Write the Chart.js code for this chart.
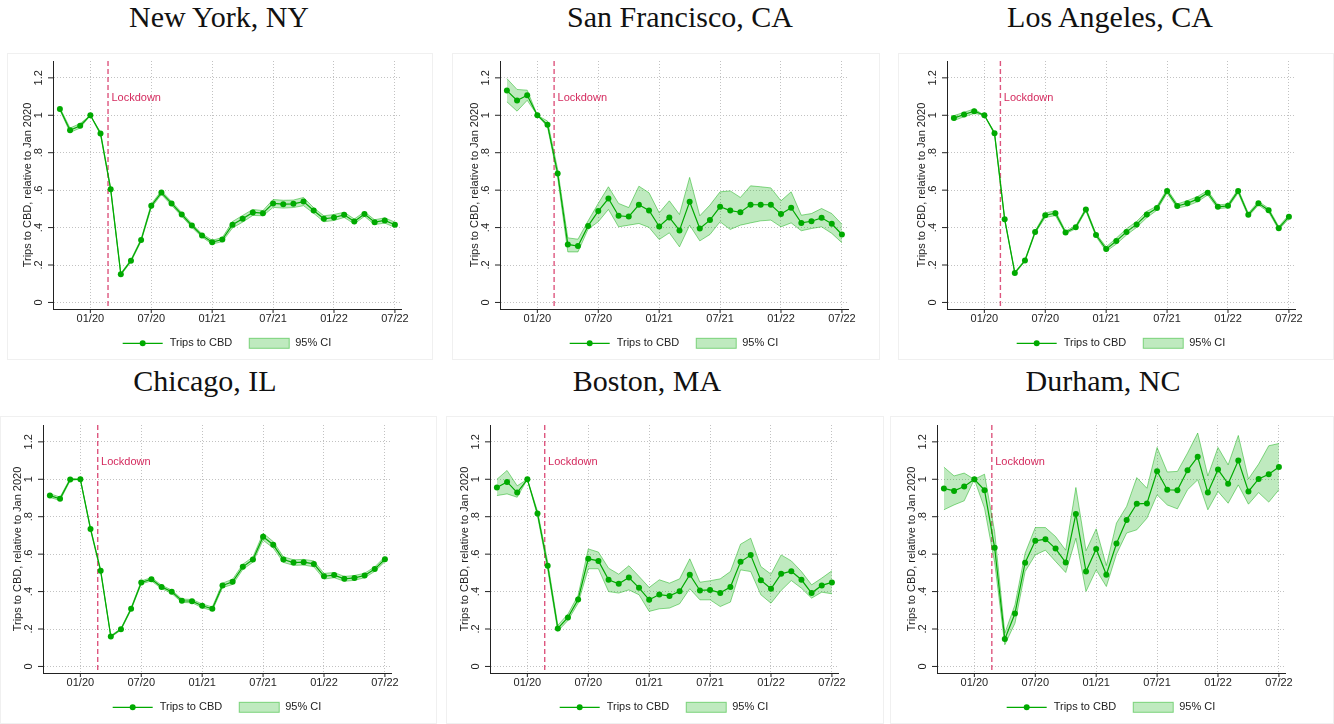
<!DOCTYPE html>
<html>
<head>
<meta charset="utf-8">
<title>Trips to CBD relative to January 2020</title>
<script src="https://cdn.jsdelivr.net/npm/chart.js@4.4.1/dist/chart.umd.min.js"></script>
<style>
  html, body { margin: 0; padding: 0; background: #fff; }
  body { width: 1334px; height: 724px; position: relative; overflow: hidden; }
  .frame { position: absolute; border: 1px solid #f0f0f0; box-sizing: border-box; }
  .title { position: absolute; width: 400px; text-align: center; font: 30px/30px "Liberation Serif", "Times New Roman", serif; color: #111; }
  canvas { position: absolute; }
</style>
</head>
<body>
<script>
// monthly observations, Oct 2019 - Jul 2022
const months = ['10/19', '11/19', '12/19',
  '01/20', '02/20', '03/20', '04/20', '05/20', '06/20', '07/20', '08/20', '09/20', '10/20', '11/20', '12/20',
  '01/21', '02/21', '03/21', '04/21', '05/21', '06/21', '07/21', '08/21', '09/21', '10/21', '11/21', '12/21',
  '01/22', '02/22', '03/22', '04/22', '05/22', '06/22', '07/22'];
const xTickLabels = ['01/20', '07/20', '01/21', '07/21', '01/22', '07/22'];
const yTicks = [0, 0.2, 0.4, 0.6, 0.8, 1, 1.2];
const yTickLabels = ['0', '.2', '.4', '.6', '.8', '1', '1.2'];
const yTitle = 'Trips to CBD, relative to Jan 2020';
const legendLabels = ['Trips to CBD', '95% CI'];

const cities = ['New York, NY', 'San Francisco, CA', 'Los Angeles, CA', 'Chicago, IL', 'Boston, MA', 'Durham, NC'];
// lockdown date, in months since Oct 2019
const lockdown = [4.74, 4.65, 4.58, 4.71, 4.71, 4.72];

const nyTrips = [1.034, 0.920, 0.944, 1.000, 0.903, 0.605, 0.151, 0.223, 0.333, 0.516, 0.587, 0.529, 0.470, 0.411, 0.358,
  0.322, 0.336, 0.415, 0.447, 0.481, 0.477, 0.529, 0.525, 0.527, 0.539, 0.491, 0.447, 0.454, 0.468, 0.433, 0.472, 0.429, 0.438, 0.415];
const nyHi = [1.040, 0.932, 0.956, 1.000, 0.910, 0.612, 0.156, 0.229, 0.340, 0.526, 0.597, 0.539, 0.480, 0.421, 0.367,
  0.332, 0.347, 0.432, 0.465, 0.497, 0.491, 0.550, 0.546, 0.547, 0.561, 0.506, 0.463, 0.470, 0.482, 0.446, 0.484, 0.442, 0.452, 0.429];
const nyLo = [1.028, 0.908, 0.932, 1.000, 0.896, 0.598, 0.146, 0.217, 0.326, 0.506, 0.577, 0.519, 0.460, 0.401, 0.349,
  0.312, 0.325, 0.398, 0.429, 0.465, 0.463, 0.508, 0.504, 0.507, 0.517, 0.476, 0.431, 0.438, 0.454, 0.420, 0.460, 0.416, 0.424, 0.401];

const sfTrips = [1.132, 1.079, 1.107, 1.000, 0.949, 0.689, 0.310, 0.301, 0.409, 0.488, 0.555, 0.463, 0.459, 0.522, 0.491,
  0.406, 0.454, 0.385, 0.538, 0.395, 0.440, 0.511, 0.491, 0.482, 0.522, 0.522, 0.522, 0.472, 0.506, 0.425, 0.434, 0.452, 0.420, 0.363];
const sfHi = [1.196, 1.138, 1.134, 1.000, 0.969, 0.712, 0.345, 0.338, 0.436, 0.529, 0.618, 0.529, 0.507, 0.621, 0.586,
  0.479, 0.543, 0.470, 0.668, 0.463, 0.520, 0.591, 0.596, 0.561, 0.623, 0.618, 0.612, 0.543, 0.591, 0.466, 0.475, 0.502, 0.475, 0.418];
const sfLo = [1.072, 1.022, 1.080, 1.000, 0.938, 0.668, 0.270, 0.270, 0.392, 0.431, 0.497, 0.404, 0.413, 0.422, 0.401,
  0.336, 0.372, 0.297, 0.413, 0.329, 0.363, 0.431, 0.390, 0.413, 0.425, 0.436, 0.440, 0.404, 0.425, 0.383, 0.395, 0.404, 0.369, 0.319];

const laTrips = [0.985, 1.004, 1.022, 1.000, 0.904, 0.445, 0.158, 0.224, 0.376, 0.466, 0.477, 0.374, 0.402, 0.497, 0.360,
  0.285, 0.328, 0.377, 0.417, 0.470, 0.504, 0.595, 0.515, 0.530, 0.552, 0.586, 0.511, 0.516, 0.595, 0.468, 0.530, 0.493, 0.397, 0.458];
const laHi = [0.998, 1.016, 1.034, 1.000, 0.910, 0.450, 0.162, 0.229, 0.382, 0.478, 0.490, 0.381, 0.410, 0.505, 0.368,
  0.297, 0.344, 0.394, 0.433, 0.487, 0.515, 0.606, 0.526, 0.544, 0.566, 0.598, 0.521, 0.526, 0.605, 0.477, 0.540, 0.503, 0.406, 0.468];
const laLo = [0.972, 0.992, 1.010, 1.000, 0.898, 0.440, 0.154, 0.219, 0.370, 0.454, 0.464, 0.367, 0.394, 0.489, 0.352,
  0.273, 0.312, 0.360, 0.401, 0.453, 0.493, 0.584, 0.504, 0.516, 0.538, 0.574, 0.501, 0.506, 0.585, 0.459, 0.520, 0.483, 0.388, 0.448];

const chiTrips = [0.913, 0.896, 0.999, 1.000, 0.735, 0.511, 0.160, 0.199, 0.308, 0.449, 0.466, 0.425, 0.399, 0.351, 0.349,
  0.324, 0.308, 0.433, 0.452, 0.532, 0.571, 0.693, 0.650, 0.571, 0.555, 0.557, 0.548, 0.482, 0.488, 0.468, 0.473, 0.486, 0.520, 0.573];
const chiHi = [0.923, 0.905, 1.005, 1.000, 0.741, 0.517, 0.164, 0.204, 0.314, 0.457, 0.475, 0.434, 0.408, 0.360, 0.358,
  0.334, 0.318, 0.445, 0.466, 0.546, 0.585, 0.712, 0.667, 0.586, 0.570, 0.572, 0.564, 0.497, 0.502, 0.481, 0.486, 0.498, 0.532, 0.586];
const chiLo = [0.903, 0.887, 0.993, 1.000, 0.729, 0.505, 0.156, 0.194, 0.302, 0.441, 0.457, 0.416, 0.390, 0.342, 0.340,
  0.314, 0.298, 0.421, 0.438, 0.518, 0.557, 0.674, 0.633, 0.556, 0.540, 0.542, 0.532, 0.467, 0.474, 0.455, 0.460, 0.474, 0.508, 0.560];

const bosTrips = [0.956, 0.986, 0.929, 1.000, 0.817, 0.538, 0.203, 0.262, 0.358, 0.575, 0.564, 0.463, 0.442, 0.475, 0.420,
  0.356, 0.384, 0.377, 0.402, 0.490, 0.406, 0.409, 0.393, 0.424, 0.559, 0.595, 0.461, 0.415, 0.495, 0.509, 0.463, 0.392, 0.433, 0.449];
const bosHi = [1.000, 1.047, 0.965, 1.000, 0.830, 0.560, 0.220, 0.280, 0.380, 0.628, 0.611, 0.525, 0.493, 0.538, 0.481,
  0.422, 0.463, 0.445, 0.468, 0.575, 0.450, 0.458, 0.468, 0.507, 0.653, 0.685, 0.534, 0.493, 0.596, 0.564, 0.507, 0.436, 0.472, 0.511];
const bosLo = [0.913, 0.922, 0.904, 1.000, 0.804, 0.518, 0.188, 0.246, 0.338, 0.522, 0.522, 0.400, 0.392, 0.409, 0.383,
  0.294, 0.308, 0.312, 0.335, 0.415, 0.356, 0.356, 0.320, 0.344, 0.516, 0.507, 0.383, 0.338, 0.406, 0.459, 0.418, 0.365, 0.397, 0.388];

const durTrips = [0.951, 0.938, 0.961, 1.000, 0.942, 0.634, 0.146, 0.283, 0.554, 0.671, 0.680, 0.630, 0.555, 0.815, 0.507,
  0.628, 0.490, 0.657, 0.782, 0.869, 0.871, 1.043, 0.944, 0.942, 1.048, 1.120, 0.929, 1.052, 0.976, 1.100, 0.935, 1.002, 1.027, 1.066];
const durHi = [1.065, 1.018, 1.033, 1.000, 1.027, 0.720, 0.178, 0.329, 0.605, 0.742, 0.742, 0.694, 0.621, 0.956, 0.618,
  0.735, 0.539, 0.766, 0.855, 1.009, 0.952, 1.170, 1.039, 1.042, 1.140, 1.247, 1.018, 1.170, 1.077, 1.234, 1.002, 1.081, 1.179, 1.191];
const durLo = [0.837, 0.863, 0.885, 1.000, 0.846, 0.555, 0.116, 0.231, 0.507, 0.596, 0.621, 0.561, 0.502, 0.685, 0.401,
  0.516, 0.427, 0.600, 0.713, 0.730, 0.792, 0.917, 0.863, 0.842, 0.944, 0.997, 0.837, 0.935, 0.872, 0.970, 0.867, 0.929, 0.878, 0.944];

const trips = [nyTrips, sfTrips, laTrips, chiTrips, bosTrips, durTrips];
const upper = [nyHi, sfHi, laHi, chiHi, bosHi, durHi];
const lower = [nyLo, sfLo, laLo, chiLo, bosLo, durLo];

// page layout: plot-area corner, title centre, light frame around each graph
const panels = [
  { axisX: 53, top: 61, titleX: 219, titleTop: 2, frame: [7, 53, 426, 307] },
  { axisX: 500, top: 61, titleX: 680, titleTop: 2, frame: [452, 53, 428, 307] },
  { axisX: 947, top: 61, titleX: 1110, titleTop: 2, frame: [898, 53, 436, 307] },
  { axisX: 42.7, top: 424.7, titleX: 205, titleTop: 366, frame: [0, 416, 437, 308] },
  { axisX: 489.7, top: 424.7, titleX: 647, titleTop: 366, frame: [446, 416, 438, 308] },
  { axisX: 936.7, top: 424.7, titleX: 1103, titleTop: 366, frame: [890, 416, 444, 308] }
];

const GREEN = '#00aa00';
const BAND = 'rgba(0, 170, 0, 0.25)';
const BAND_EDGE = 'rgba(0, 170, 0, 0.45)';
const GRID = '#c2c2c2';
const AXIS = '#222';
const LOCK = '#d42a5e';
const FONT = '"Liberation Sans", Arial, Helvetica, sans-serif';

Chart.defaults.font.family = FONT;
Chart.defaults.font.size = 11;
Chart.defaults.color = AXIS;

const xTickPos = xTickLabels.map(l => months.indexOf(l));
const toPoints = arr => months.map((m, k) => ({ x: k, y: arr[k] }));

// lockdown marker, rotated y labels, tick marks and the legend row
const cbdPanel = {
  id: 'cbdPanel',
  beforeDatasetsDraw(chart, args, opts) {
    const { ctx, chartArea: a, scales: { x, y } } = chart;
    const lx = x.getPixelForValue(opts.lockdown);
    ctx.save();
    ctx.strokeStyle = 'rgba(212, 42, 94, 0.8)';
    ctx.lineWidth = 1.4;
    ctx.setLineDash([5, 3]);
    ctx.beginPath();
    ctx.moveTo(lx, a.top);
    ctx.lineTo(lx, a.bottom);
    ctx.stroke();
    ctx.setLineDash([]);
    ctx.fillStyle = LOCK;
    ctx.font = '11px ' + FONT;
    ctx.textAlign = 'left';
    ctx.textBaseline = 'middle';
    ctx.fillText('Lockdown', lx + 3.4, y.getPixelForValue(1.095));
    ctx.restore();
  },
  afterDraw(chart) {
    const { ctx, chartArea: a, scales: { x, y } } = chart;
    ctx.save();
    ctx.strokeStyle = AXIS;
    ctx.lineWidth = 1;
    ctx.fillStyle = AXIS;
    ctx.font = '11px ' + FONT;
    ctx.textAlign = 'center';
    ctx.textBaseline = 'middle';
    yTicks.forEach((v, k) => {
      const py = y.getPixelForValue(v);
      ctx.beginPath();
      ctx.moveTo(a.left - 5, py);
      ctx.lineTo(a.left, py);
      ctx.stroke();
      ctx.save();
      ctx.translate(a.left - 14, py);
      ctx.rotate(-Math.PI / 2);
      ctx.fillText(yTickLabels[k], 0, 0);
      ctx.restore();
    });
    xTickPos.forEach(v => {
      const px = x.getPixelForValue(v);
      ctx.beginPath();
      ctx.moveTo(px, a.bottom);
      ctx.lineTo(px, a.bottom + 4);
      ctx.stroke();
    });

    // legend
    const w1 = ctx.measureText(legendLabels[0]).width;
    const w2 = ctx.measureText(legendLabels[1]).width;
    const total = 40 + 7 + w1 + 17 + 40 + 6 + w2;
    let lx = (a.left + a.right) / 2 - total / 2;
    const ly = a.bottom + 34.3;
    ctx.strokeStyle = GREEN;
    ctx.lineWidth = 1.2;
    ctx.beginPath();
    ctx.moveTo(lx, ly);
    ctx.lineTo(lx + 40, ly);
    ctx.stroke();
    ctx.fillStyle = GREEN;
    ctx.beginPath();
    ctx.arc(lx + 20, ly, 3, 0, Math.PI * 2);
    ctx.fill();
    ctx.fillStyle = AXIS;
    ctx.textAlign = 'left';
    ctx.fillText(legendLabels[0], lx + 47, ly);
    lx += 47 + w1 + 17;
    ctx.fillStyle = BAND;
    ctx.fillRect(lx, ly - 5, 40, 10);
    ctx.strokeStyle = BAND_EDGE;
    ctx.lineWidth = 1;
    ctx.strokeRect(lx, ly - 5, 40, 10);
    ctx.fillStyle = AXIS;
    ctx.fillText(legendLabels[1], lx + 46, ly);
    ctx.restore();
  }
};

panels.forEach((p, i) => {
  const frame = document.createElement('div');
  frame.className = 'frame';
  frame.style.left = p.frame[0] + 'px';
  frame.style.top = p.frame[1] + 'px';
  frame.style.width = p.frame[2] + 'px';
  frame.style.height = p.frame[3] + 'px';
  document.body.appendChild(frame);

  const title = document.createElement('div');
  title.className = 'title';
  title.textContent = cities[i];
  title.style.left = (p.titleX - 200) + 'px';
  title.style.top = p.titleTop + 'px';
  document.body.appendChild(title);

  const canvas = document.createElement('canvas');
  canvas.width = 400;
  canvas.height = 306;
  canvas.style.left = (p.axisX - 40) + 'px';
  canvas.style.top = (p.top - 8) + 'px';
  document.body.appendChild(canvas);

  new Chart(canvas, {
    type: 'line',
    data: {
      datasets: [
        {
          label: legendLabels[0],
          data: toPoints(trips[i]),
          borderColor: GREEN,
          backgroundColor: GREEN,
          borderWidth: 1.2,
          pointRadius: 3,
          pointBorderWidth: 0,
          pointBackgroundColor: GREEN,
          tension: 0,
          fill: false,
          order: 0
        },
        {
          label: 'upper',
          data: toPoints(upper[i]),
          borderColor: BAND_EDGE,
          borderWidth: 1,
          backgroundColor: BAND,
          pointRadius: 0,
          tension: 0,
          fill: '+1',
          order: 1
        },
        {
          label: 'lower',
          data: toPoints(lower[i]),
          borderColor: BAND_EDGE,
          borderWidth: 1,
          pointRadius: 0,
          tension: 0,
          fill: false,
          order: 2
        }
      ]
    },
    options: {
      responsive: false,
      animation: false,
      devicePixelRatio: 1,
      layout: { padding: { top: 8, right: 12, left: 0, bottom: 0 } },
      scales: {
        x: {
          type: 'linear',
          min: -0.68,
          max: 33.6,
          afterBuildTicks: s => { s.ticks = xTickPos.map(v => ({ value: v })); },
          afterFit: s => { s.height = 50; },
          ticks: {
            callback: v => xTickLabels[xTickPos.indexOf(v)],
            padding: 3,
            maxRotation: 0,
            autoSkip: false
          },
          grid: { color: GRID, drawTicks: false },
          border: { color: AXIS, width: 1, dash: [1, 2] }
        },
        y: {
          min: -0.035,
          max: 1.29,
          afterBuildTicks: s => { s.ticks = yTicks.map(v => ({ value: v })); },
          afterFit: s => { s.width = 40; },
          ticks: { display: false },
          grid: { color: GRID, drawTicks: false },
          border: { color: AXIS, width: 1, dash: [1, 2] },
          title: { display: true, text: yTitle, padding: { top: 8, bottom: 0 } }
        }
      },
      plugins: {
        legend: { display: false },
        tooltip: { enabled: false },
        cbdPanel: { lockdown: lockdown[i] }
      }
    },
    plugins: [cbdPanel]
  });
});
</script>
</body>
</html>
